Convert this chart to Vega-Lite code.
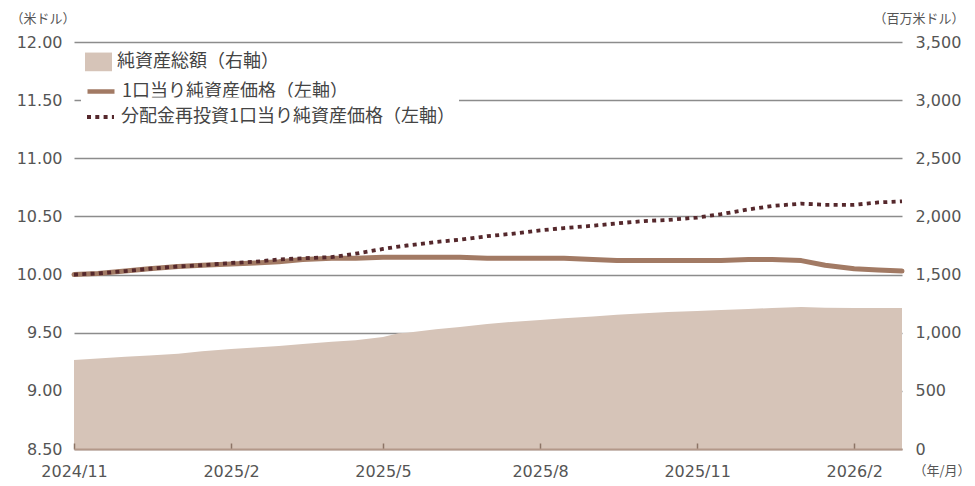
{
  "$schema": "https://vega.github.io/schema/vega-lite/v6.json",
  "width": 828,
  "height": 407,
  "autosize": {"type": "none"},
  "padding": {"left": 74, "top": 42, "right": 73, "bottom": 37},
  "background": "white",
  "config": {
    "view": {"stroke": null},
    "axis": {
      "labelFont": "DejaVu Sans",
      "labelFontSize": 16,
      "labelColor": "#555555",
      "titleFont": "Noto Sans CJK JP",
      "titleFontSize": 13,
      "titleColor": "#555555",
      "titleFontWeight": "normal"
    },
    "legend": {
      "orient": "none",
      "title": null,
      "fillColor": "white",
      "padding": 4,
      "labelFont": "Noto Sans CJK JP",
      "labelFontSize": 18,
      "labelColor": "#444444",
      "labelLimit": 600,
      "labelOffset": 5,
      "symbolSize": 729,
      "legendX": 7
    }
  },
  "data": {
    "values": [
      {"date": "2024-11-01", "aum": 765, "nav": 10.00, "navr": 10.00},
      {"date": "2024-11-15", "aum": 778, "nav": 10.01, "navr": 10.01},
      {"date": "2024-12-01", "aum": 793, "nav": 10.03, "navr": 10.03},
      {"date": "2024-12-15", "aum": 803, "nav": 10.05, "navr": 10.05},
      {"date": "2025-01-01", "aum": 820, "nav": 10.07, "navr": 10.07},
      {"date": "2025-01-15", "aum": 840, "nav": 10.08, "navr": 10.08},
      {"date": "2025-02-01", "aum": 860, "nav": 10.09, "navr": 10.10},
      {"date": "2025-02-15", "aum": 872, "nav": 10.10, "navr": 10.11},
      {"date": "2025-03-01", "aum": 885, "nav": 10.11, "navr": 10.13},
      {"date": "2025-03-15", "aum": 903, "nav": 10.13, "navr": 10.14},
      {"date": "2025-04-01", "aum": 923, "nav": 10.14, "navr": 10.15},
      {"date": "2025-04-15", "aum": 935, "nav": 10.14, "navr": 10.18},
      {"date": "2025-05-01", "aum": 963, "nav": 10.15, "navr": 10.22},
      {"date": "2025-05-10", "aum": 995, "nav": 10.15, "navr": 10.24},
      {"date": "2025-05-15", "aum": 1000, "nav": 10.15, "navr": 10.25},
      {"date": "2025-06-01", "aum": 1030, "nav": 10.15, "navr": 10.28},
      {"date": "2025-06-15", "aum": 1050, "nav": 10.15, "navr": 10.30},
      {"date": "2025-07-01", "aum": 1075, "nav": 10.14, "navr": 10.33},
      {"date": "2025-07-15", "aum": 1092, "nav": 10.14, "navr": 10.35},
      {"date": "2025-08-01", "aum": 1109, "nav": 10.14, "navr": 10.38},
      {"date": "2025-08-15", "aum": 1124, "nav": 10.14, "navr": 10.40},
      {"date": "2025-09-01", "aum": 1140, "nav": 10.13, "navr": 10.42},
      {"date": "2025-09-15", "aum": 1155, "nav": 10.12, "navr": 10.44},
      {"date": "2025-10-01", "aum": 1168, "nav": 10.12, "navr": 10.46},
      {"date": "2025-10-15", "aum": 1178, "nav": 10.12, "navr": 10.47},
      {"date": "2025-11-01", "aum": 1187, "nav": 10.12, "navr": 10.49},
      {"date": "2025-11-15", "aum": 1196, "nav": 10.12, "navr": 10.52},
      {"date": "2025-12-01", "aum": 1204, "nav": 10.13, "navr": 10.56},
      {"date": "2025-12-15", "aum": 1213, "nav": 10.13, "navr": 10.59},
      {"date": "2026-01-01", "aum": 1221, "nav": 10.12, "navr": 10.61},
      {"date": "2026-01-15", "aum": 1215, "nav": 10.08, "navr": 10.60},
      {"date": "2026-02-01", "aum": 1212, "nav": 10.05, "navr": 10.60},
      {"date": "2026-02-15", "aum": 1212, "nav": 10.04, "navr": 10.62},
      {"date": "2026-03-01", "aum": 1212, "nav": 10.03, "navr": 10.63}
    ]
  },
  "encoding": {
    "x": {
      "field": "date",
      "type": "temporal",
      "scale": {
        "type": "utc",
        "domain": [
          {"year": 2024, "month": 11, "date": 1, "utc": true},
          {"year": 2026, "month": 3, "date": 1, "utc": true}
        ]
      },
      "axis": {
        "orient": "bottom",
        "zindex": 1,
        "values": [
          {"year": 2024, "month": 11, "date": 1, "utc": true},
          {"year": 2025, "month": 2, "date": 1, "utc": true},
          {"year": 2025, "month": 5, "date": 1, "utc": true},
          {"year": 2025, "month": 8, "date": 1, "utc": true},
          {"year": 2025, "month": 11, "date": 1, "utc": true},
          {"year": 2026, "month": 2, "date": 1, "utc": true}
        ],
        "labelExpr": "utcFormat(datum.value, '%Y/%-m')",
        "grid": false,
        "domainColor": "#b39889",
        "domainWidth": 2,
        "tickColor": "#8c7466",
        "tickWidth": 1.5,
        "tickSize": -6,
        "labelPadding": 20,
        "labelFlush": false,
        "title": "（年/月）",
        "titleAngle": 0,
        "titleAlign": "left",
        "titleBaseline": "middle",
        "titleX": 839,
        "titleY": 21
      }
    }
  },
  "layer": [
    {
      "mark": {"type": "area", "opacity": 1},
      "encoding": {
        "y": {
          "field": "aum",
          "type": "quantitative",
          "scale": {"domain": [0, 3500], "nice": false},
          "axis": {
            "orient": "right",
            "values": [0, 500, 1000, 1500, 2000, 2500, 3000, 3500],
            "format": ",.0f",
            "grid": false,
            "ticks": false,
            "domain": false,
            "labelPadding": 13,
            "title": "（百万米ドル）",
            "titleAngle": 0,
            "titleAlign": "left",
            "titleBaseline": "middle",
            "titleX": -29,
            "titleY": -24
          }
        },
        "color": {
          "datum": "純資産総額（右軸）",
          "type": "nominal",
          "scale": {"range": ["#d6c4b8"]},
          "legend": {
            "legendY": 2.5,
            "symbolType": "M-1,-0.7H1V0.7H-1Z",
            "symbolStrokeWidth": 0
          }
        }
      }
    },
    {
      "layer": [
        {
          "mark": {"type": "line", "strokeWidth": 5, "strokeCap": "round", "strokeJoin": "round"},
          "encoding": {
            "y": {"field": "nav", "type": "quantitative"},
            "color": {
              "datum": "1口当り純資産価格（左軸）",
              "type": "nominal",
              "scale": {"range": ["#a27a64"]},
              "legend": {
                "legendY": 29.5,
                "symbolType": "stroke",
                "symbolStrokeWidth": 4.5
              }
            }
          }
        },
        {
          "mark": {"type": "line", "strokeWidth": 3.8, "strokeDash": [4, 4.3], "strokeCap": "butt"},
          "encoding": {
            "y": {"field": "navr", "type": "quantitative"},
            "color": {
              "datum": "分配金再投資1口当り純資産価格（左軸）",
              "type": "nominal",
              "scale": {"range": ["#55282c"]},
              "legend": {
                "legendY": 55.5,
                "symbolType": "stroke",
                "symbolStrokeWidth": 3.8,
                "symbolDash": [4, 4.3]
              }
            }
          }
        }
      ],
      "encoding": {
        "y": {
          "type": "quantitative",
          "scale": {"domain": [8.5, 12], "nice": false, "zero": false},
          "axis": {
            "orient": "left",
            "values": [8.5, 9, 9.5, 10, 10.5, 11, 11.5, 12],
            "format": ".2f",
            "grid": true,
            "gridColor": "#8c8c8c",
            "gridWidth": 1.5,
            "ticks": false,
            "domain": false,
            "labelPadding": 12,
            "title": "（米ドル）",
            "titleAngle": 0,
            "titleAlign": "left",
            "titleBaseline": "middle",
            "titleX": -64,
            "titleY": -24
          }
        }
      },
      "resolve": {"scale": {"color": "independent"}, "legend": {"color": "independent"}}
    }
  ],
  "resolve": {"scale": {"y": "independent", "color": "independent"}, "legend": {"color": "independent"}}
}
